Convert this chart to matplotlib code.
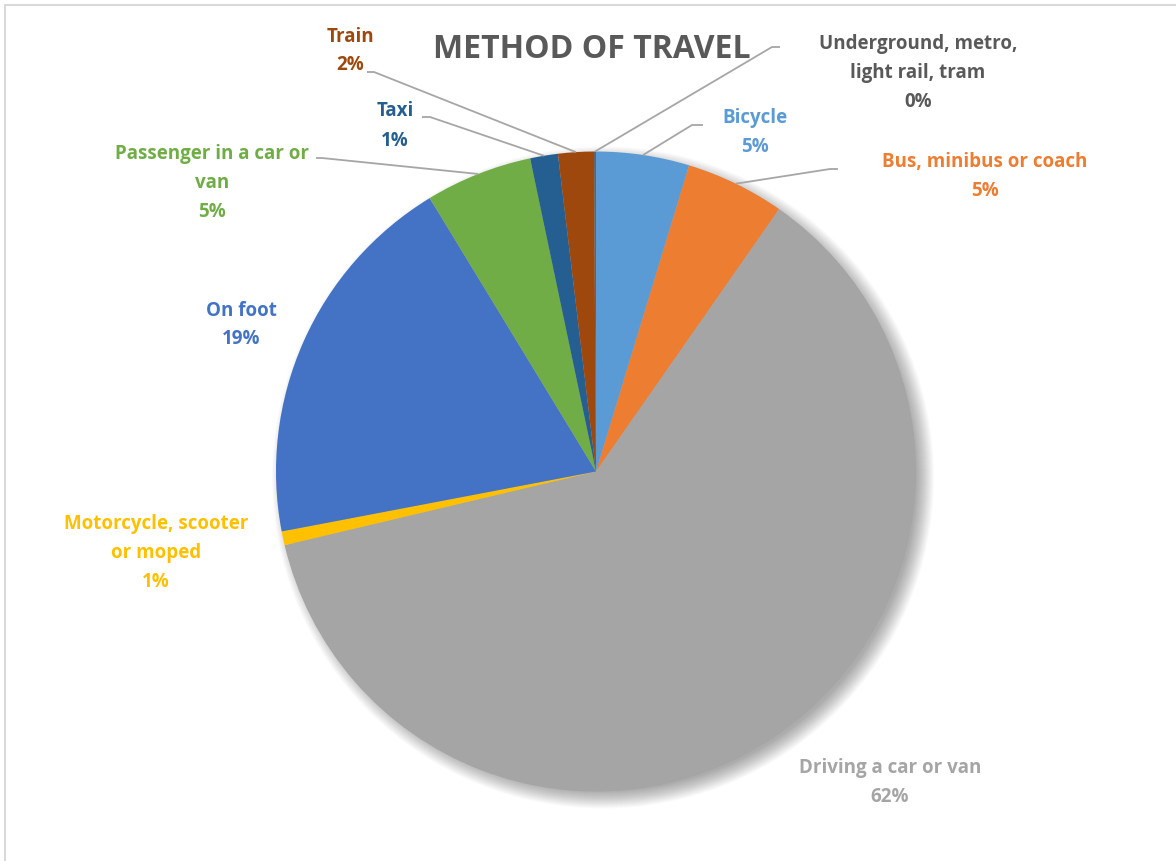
import numpy as np
import matplotlib
import matplotlib.pyplot as plt
from matplotlib.patches import Circle, Rectangle

matplotlib.use('Agg')

# Data (shares in percent)
methods = ["Bicycle", "Bus, minibus or coach", "Driving a car or van",
           "Motorcycle, scooter or moped", "On foot", "Passenger in a car or van",
           "Taxi", "Train", "Underground, metro, light rail, tram"]
label_text = ["Bicycle", "Bus, minibus or coach", "Driving a car or van",
              "Motorcycle, scooter\nor moped", "On foot", "Passenger in a car or\nvan",
              "Taxi", "Train", "Underground, metro,\nlight rail, tram"]
shares = [4.7, 5.0, 61.6, 0.7, 19.3, 5.4, 1.4, 1.8, 0.1]
colors = ["#5B9BD5", "#ED7D31", "#A5A5A5", "#FFC000", "#4472C4",
          "#70AD47", "#255E91", "#9E480E", "#636363"]
text_colors = ["#5B9BD5", "#ED7D31", "#A5A5A5", "#FFC000", "#4472C4",
               "#70AD47", "#255E91", "#9E480E", "#595959"]

W, H = 1176, 861
CX, CY, R = 596, 471.5, 320  # pixel layout, y from top

# label centres (pixel layout) and leader elbow (None = no leader)
label_pos = [(755, 132), (985, 176), (890, 782), (156, 553), (241, 325),
             (212, 183), (395, 126), (350, 51), (918, 73)]
elbow = [(692, 125), (830, 169), None, None, None,
         (322, 158), (430, 117), (374, 72), (772, 47)]
elbow_end = [(703, 125), (838, 169), None, None, None,
             (316, 158), (422, 117), (367, 72), (780, 47)]


def py(y):
    return H - y


fig = plt.figure(figsize=(W / 100, H / 100), dpi=100)
ax = fig.add_axes([0, 0, 1, 1])

# soft shadow behind the pie, falling to the lower right
for k in range(18):
    ax.add_patch(Circle((CX + 7, py(CY) - 6), R - 6 + k, facecolor='black',
                        edgecolor='none', alpha=0.018, zorder=0))

wedges, _ = ax.pie(shares, colors=colors, startangle=90, counterclock=False,
                   radius=R, center=(CX, py(CY)),
                   wedgeprops=dict(linewidth=0))
for w in wedges:
    w.set_zorder(2)

ax.set_xlim(0, W)
ax.set_ylim(0, H)
ax.set_aspect('equal')
ax.axis('off')

font = ['Open Sans', 'DejaVu Sans']

for i, w in enumerate(wedges):
    txt = f"{label_text[i]}\n{shares[i]:.0f}%"
    lx, ly = label_pos[i]
    ax.text(lx, py(ly), txt, ha='center', va='center', color=text_colors[i],
            fontsize=13.5, fontweight='bold', family=font,
            linespacing=1.6, zorder=5)
    if elbow[i] is not None:
        mid = np.deg2rad((w.theta1 + w.theta2) / 2)
        ax0 = CX + R * np.cos(mid)
        ay0 = py(CY) + R * np.sin(mid)
        ex, ey = elbow[i]
        fx, fy = elbow_end[i]
        ax.plot([ax0, ex, fx], [ay0, py(ey), py(fy)], color='#A6A6A6',
                lw=1.3, zorder=4, solid_capstyle='butt')

ax.text(592, py(50), "METHOD OF TRAVEL", ha='center', va='center',
        color='#595959', fontsize=23, fontweight='bold', family=font, zorder=5)

# chart border
ax.add_patch(Rectangle((5, py(W)), W + 20, py(5) - py(W), facecolor='none',
                       edgecolor='#D9D9D9', lw=1.5, zorder=6))

fig.savefig('out.png', dpi=100)
